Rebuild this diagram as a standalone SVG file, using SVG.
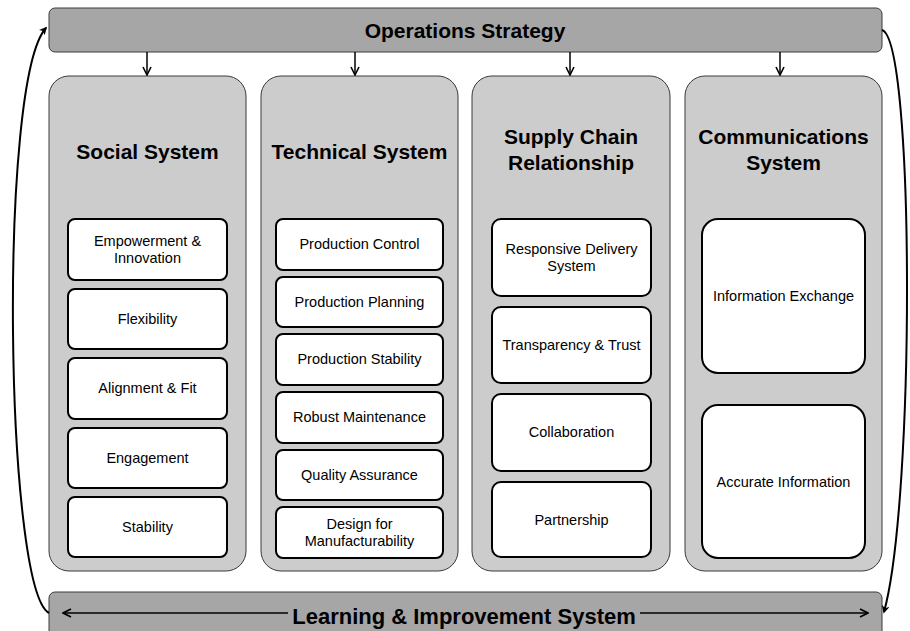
<svg xmlns="http://www.w3.org/2000/svg" width="910" height="631" viewBox="0 0 910 631">
<defs>
<style>
.bar{fill:#a6a6a6;stroke:#3a3a3a;stroke-width:1}
.col{fill:#cccccc;stroke:#3a3a3a;stroke-width:1}
.box{fill:#ffffff;stroke:#000000;stroke-width:2}
.t{font-family:"Liberation Sans",Arial,sans-serif;fill:#000;text-anchor:middle}
.big{font-size:21px;font-weight:bold}
.sm{font-size:14.5px}
.conn{fill:none;stroke:#000;stroke-width:1.5}
.curve{fill:none;stroke:#000;stroke-width:2}
</style>
<marker id="ah" viewBox="0 0 10 10" refX="9" refY="5" markerWidth="10" markerHeight="10" markerUnits="userSpaceOnUse" orient="auto-start-reverse">
<path d="M1,1 L9,5 L1,9" fill="none" stroke="#000" stroke-width="1.6"/>
</marker>
<marker id="ah2" viewBox="0 0 10 10" refX="8" refY="5" markerWidth="8" markerHeight="8" markerUnits="userSpaceOnUse" orient="auto">
<path d="M0,0 L10,5 L0,10 L3,5 Z" fill="#000"/>
</marker>
</defs>

<g id="operations-strategy">
<rect class="bar" x="49" y="8" width="833" height="44" rx="6"/>
<text class="t big" x="465" y="38">Operations Strategy</text>
</g>

<g id="learning-improvement">
<rect class="bar" x="49" y="592" width="833" height="50" rx="6"/>
<text class="t big" x="464" y="624" style="font-size:22px">Learning &amp; Improvement System</text>
</g>

<g id="social-system">
<rect class="col" x="49" y="76" width="197" height="495" rx="20"/>
<text class="t big" x="147.5" y="159">Social System</text>
<rect class="box" x="68" y="219" width="159" height="61" rx="7"/>
<text class="t sm" x="147.5" y="246">Empowerment &amp;</text>
<text class="t sm" x="147.5" y="263">Innovation</text>
<rect class="box" x="68" y="289" width="159" height="60" rx="7"/>
<text class="t sm" x="147.5" y="324">Flexibility</text>
<rect class="box" x="68" y="358" width="159" height="61" rx="7"/>
<text class="t sm" x="147.5" y="393">Alignment &amp; Fit</text>
<rect class="box" x="68" y="428" width="159" height="60" rx="7"/>
<text class="t sm" x="147.5" y="463">Engagement</text>
<rect class="box" x="68" y="497" width="159" height="60" rx="7"/>
<text class="t sm" x="147.5" y="532">Stability</text>
</g>

<g id="technical-system">
<rect class="col" x="261" y="76" width="197" height="495" rx="20"/>
<text class="t big" x="359.5" y="159">Technical System</text>
<rect class="box" x="276" y="219" width="167" height="51" rx="7"/>
<text class="t sm" x="359.5" y="249">Production Control</text>
<rect class="box" x="276" y="277" width="167" height="50" rx="7"/>
<text class="t sm" x="359.5" y="307">Production Planning</text>
<rect class="box" x="276" y="334" width="167" height="51" rx="7"/>
<text class="t sm" x="359.5" y="364">Production Stability</text>
<rect class="box" x="276" y="392" width="167" height="51" rx="7"/>
<text class="t sm" x="359.5" y="422">Robust Maintenance</text>
<rect class="box" x="276" y="450" width="167" height="50" rx="7"/>
<text class="t sm" x="359.5" y="480">Quality Assurance</text>
<rect class="box" x="276" y="507" width="167" height="51" rx="7"/>
<text class="t sm" x="359.5" y="529">Design for</text>
<text class="t sm" x="359.5" y="546">Manufacturability</text>
</g>

<g id="supply-chain">
<rect class="col" x="472" y="76" width="198" height="495" rx="20"/>
<text class="t big" x="571" y="144">Supply Chain</text>
<text class="t big" x="571" y="170">Relationship</text>
<rect class="box" x="492" y="219" width="159" height="77" rx="9"/>
<text class="t sm" x="571.5" y="254">Responsive Delivery</text>
<text class="t sm" x="571.5" y="271">System</text>
<rect class="box" x="492" y="307" width="159" height="76" rx="9"/>
<text class="t sm" x="571.5" y="350">Transparency &amp; Trust</text>
<rect class="box" x="492" y="394" width="159" height="77" rx="9"/>
<text class="t sm" x="571.5" y="437">Collaboration</text>
<rect class="box" x="492" y="482" width="159" height="75" rx="9"/>
<text class="t sm" x="571.5" y="525">Partnership</text>
</g>

<g id="communications-system">
<rect class="col" x="685" y="76" width="197" height="495" rx="20"/>
<text class="t big" x="783.5" y="144">Communications</text>
<text class="t big" x="783.5" y="170">System</text>
<rect class="box" x="702" y="219" width="163" height="154" rx="16"/>
<text class="t sm" x="783.5" y="301">Information Exchange</text>
<rect class="box" x="702" y="405" width="163" height="153" rx="16"/>
<text class="t sm" x="783.5" y="487">Accurate Information</text>
</g>

<g id="connectors">
<line class="conn" x1="147" y1="52" x2="147" y2="75" marker-end="url(#ah)"/>
<line class="conn" x1="355" y1="52" x2="355" y2="75" marker-end="url(#ah)"/>
<line class="conn" x1="570" y1="52" x2="570" y2="75" marker-end="url(#ah)"/>
<line class="conn" x1="780" y1="52" x2="780" y2="75" marker-end="url(#ah)"/>
<line class="conn" x1="288" y1="613" x2="63" y2="613" marker-end="url(#ah)"/>
<line class="conn" x1="640" y1="613" x2="868" y2="613" marker-end="url(#ah)"/>
<path class="curve" d="M49,613 C5,590 -2,80 46,28" marker-end="url(#ah2)"/>
<path class="curve" d="M882,30 C915,40 915,500 884,612" marker-end="url(#ah2)"/>
</g>
</svg>
